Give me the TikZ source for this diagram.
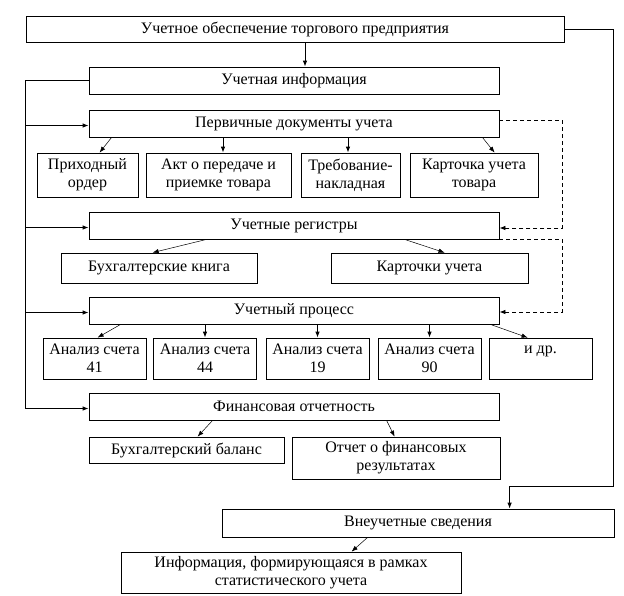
\documentclass[tikz,border=0pt]{standalone}
\usepackage{fontspec}
\setmainfont{Liberation Serif}
\usetikzlibrary{shapes,calc,arrows.meta}

\begin{document}
\begin{tikzpicture}[x=1pt,y=-1pt,
  box/.style={draw,rectangle,line width=0.8pt,inner sep=0pt,align=center,font=\fontsize{16}{18}\selectfont},
  link/.style={line width=0.8pt,-{Latex[length=6pt,width=4.5pt]}},
  slant/.style={line width=0.5pt,-{Latex[length=6pt,width=4.5pt]}},
  dashlink/.style={line width=0.8pt,dash pattern=on 4pt off 3pt,-{Latex[length=6pt,width=4.5pt]}}]
  \useasboundingbox (0,0) rectangle (624,595);
  \node[box,minimum width=538pt,minimum height=26pt] (nodetop) at (295,29) {Учетное обеспечение торгового предприятия};
  \foreach \name/\y/\txt in {info/80.5/Учетная информация,prim/123.5/Первичные документы учета,reg/225.5/Учетные регистры,proc/310.5/Учетный процесс,fin/406.5/Финансовая отчетность}{
    \node[box,minimum width=410pt,minimum height=27pt] (node\name) at (294,\y) {\txt};
  }
  \foreach \name/\x/\w/\txt in {prih/87.5/101/{Приходный\\ордер},akt/218.5/145/{Акт о передаче и\\приемке товара},treb/350.5/99/{Требование-\\накладная},kart/474/128/{Карточка учета\\товара}}{
    \node[box,minimum width=\w pt,minimum height=44pt] (node\name) at (\x,175) {\txt};
  }
  \node[box,minimum width=196pt,minimum height=30pt] (nodebooks) at (159,268) {Бухгалтерские книга};
  \node[box,minimum width=197pt,minimum height=30pt] (nodecards) at (429.5,268) {Карточки учета};
  \foreach \num/\x in {41/94.5,44/205,19/317.5,90/429.5}{
    \node[box,minimum width=103pt,minimum height=41pt] (nodeanalysis\num) at (\x,358.5) {Анализ счета\\\num};
  }
  \node[box,minimum width=103pt,minimum height=41pt] (nodeidr) at (540.5,358.5) {и др.\\\mbox{}};
  \node[box,minimum width=195pt,minimum height=26pt] (nodebalance) at (186.5,450) {Бухгалтерский баланс};
  \node[box,minimum width=208pt,minimum height=42pt] (nodereport) at (396,458) {Отчет о финансовых\\результатах};
  \node[box,minimum width=392pt,minimum height=28pt] (nodeextra) at (418,523) {Внеучетные сведения};
  \node[box,minimum width=340pt,minimum height=41pt] (nodestat) at (291,572.5) {Информация, формирующаяся в рамках\\статистического учета};

  \draw[link] ([xshift=10pt]nodetop.south) -- ([xshift=11pt]nodeinfo.north);
  \draw[line width=0.8pt] (nodeinfo.west) -- ++(-63,0) coordinate (busleft) -- ([yshift=-2pt]busleft |- nodefin.west);
  \foreach \name in {prim,reg,proc,fin}{
    \draw[link] ([yshift=-2pt]busleft |- node\name.west) -- ([yshift=-2pt]node\name.west);
  }
  \draw[link] (nodetop.east) -| ++(49,457) -| ([xshift=288pt]nodeextra.north west);
  \draw[dashlink] ([yshift=3.5pt]nodeprim.east) -- ++(63,0) |- ([yshift=-2.5pt]nodereg.east);
  \draw[dashlink] (nodereg.south east) -- ++(63,0) |- ([yshift=-1.5pt]nodeproc.east);

  \draw[slant] ([xshift=23pt]nodeprim.south west) -- ([xshift=63pt]nodeprih.north west);
  \draw[link] ([xshift=-71pt]nodeprim.south) -- ([xshift=4.5pt]nodeakt.north);
  \draw[link] ([xshift=54pt]nodeprim.south) -- ([xshift=-2.5pt]nodetreb.north);
  \draw[slant] ([xshift=-17pt]nodeprim.south east) -- ([xshift=85pt]nodekart.north west);

  \draw[slant] ([xshift=118pt]nodereg.south west) -- ([xshift=92pt]nodebooks.north west);
  \draw[slant] ([xshift=316pt]nodereg.south west) -- ([xshift=114pt]nodecards.north west);

  \draw[slant] ([xshift=32pt]nodeproc.south west) -- ([xshift=55pt]nodeanalysis41.north west);
  \foreach \num in {44,19,90}{
    \draw[link] (nodeproc.south -| nodeanalysis\num.north) -- (nodeanalysis\num.north);
  }
  \draw[slant] ([xshift=-9pt]nodeproc.south east) -- ([xshift=39pt]nodeidr.north west);

  \draw[slant] ([xshift=124pt]nodefin.south west) -- ([xshift=109pt]nodebalance.north west);
  \draw[slant] ([xshift=298pt]nodefin.south west) -- ([xshift=103pt]nodereport.north west);
  \draw[slant] ([xshift=146pt]nodeextra.south west) -- ([xshift=231pt]nodestat.north west);
\end{tikzpicture}
\end{document}
